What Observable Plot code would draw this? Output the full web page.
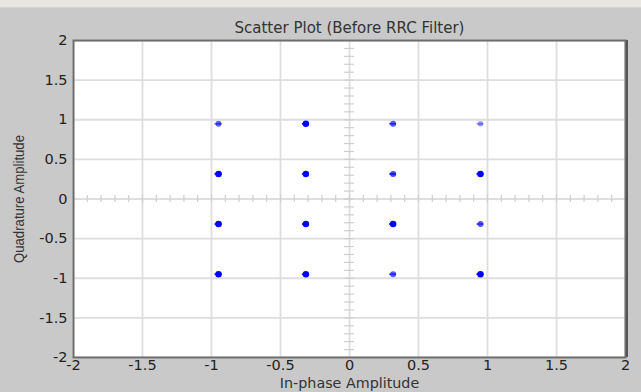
<!DOCTYPE html>
<html>
<head>
<meta charset="utf-8">
<script src="https://cdn.jsdelivr.net/npm/d3@7"></script>
<script src="https://cdn.jsdelivr.net/npm/@observablehq/plot@0.6"></script>
<style>
  html, body { margin: 0; padding: 0; background: #c9c9c9; }
  #strip { height: 7px; background: #e8e6e0; border-bottom: 1px solid #d6d4ce; }
  #chart svg { display: block; }
</style>
</head>
<body>
<div id="strip"></div>
<div id="chart"></div>
<script>
// ---- data ----
const inPhase    = [-0.949, -0.316, 0.316, 0.949,  -0.949, -0.316, 0.316, 0.949,  -0.949, -0.316, 0.316, 0.949,  -0.949, -0.316, 0.316, 0.949];
const quadrature = [ 0.949,  0.949, 0.949, 0.949,   0.316,  0.316, 0.316, 0.316,  -0.316, -0.316,-0.316,-0.316,  -0.949, -0.949,-0.949,-0.949];
const density    = [ 0.5,    1.0,   0.55,  0.2,     1.0,    1.0,   0.65,  1.0,     1.0,    1.0,   1.0,   0.55,    1.0,    1.0,   0.55,  1.0];
const axisTicks  = [-2, -1.5, -1, -0.5, 0, 0.5, 1, 1.5, 2];
const minorTicks = d3.range(-20, 21).map(k => k / 10);

const title  = "Scatter Plot (Before RRC Filter)";
const xLabel = "In-phase Amplitude";
const yLabel = "Quadrature Amplitude";

const points = inPhase.map((x, i) => ({x, y: quadrature[i], d: density[i]}));

const font = "DejaVu Sans, Verdana, sans-serif";
const fmt = d => String(d);

const plot = Plot.plot({
  width: 641,
  height: 384,
  marginLeft: 73,
  marginRight: 16,
  marginTop: 32,
  marginBottom: 35,
  style: {background: "transparent", fontFamily: font, fontSize: "14px", color: "#222"},
  x: {domain: [-2, 2], ticks: axisTicks, tickFormat: fmt, label: null},
  y: {domain: [-2, 2], ticks: axisTicks, tickFormat: fmt, label: null},
  marks: [
    Plot.frame({fill: "white", stroke: null}),
    Plot.gridX(axisTicks, {stroke: "#dedede", strokeOpacity: 1, strokeWidth: 1.8}),
    Plot.gridY(axisTicks, {stroke: "#dedede", strokeOpacity: 1, strokeWidth: 1.8}),
    // crosshair minor ticks through the origin
    Plot.ruleX(minorTicks, {x: d => d, y1: 0, y2: 0, insetTop: -3.5, insetBottom: -3.5, stroke: "#cfcfcf", strokeWidth: 1.2}),
    Plot.ruleY(minorTicks, {y: d => d, x1: 0, x2: 0, insetLeft: -5, insetRight: -5, stroke: "#cfcfcf", strokeWidth: 1.2}),
    // constellation points
    Plot.ruleY(points, {y: "y", x1: "x", x2: "x", insetLeft: -3.5, insetRight: -3.5, stroke: "#0000ff", strokeWidth: 1.6, strokeOpacity: d => 0.2 + 0.8 * d.d}),
    Plot.dot(points, {x: "x", y: "y", r: d => 1.5 + 0.8 * d.d, fill: "#0000ff", fillOpacity: d => 0.25 + 0.75 * d.d, stroke: null}),
    Plot.frame({stroke: "#6e6e6e", strokeWidth: 2}),
    Plot.ruleX([2], {stroke: "#555", strokeWidth: 2, dx: 1.5}),
    Plot.axisX({ticks: axisTicks, tickFormat: fmt, tickSize: 0, tickPadding: 2, fill: "#222", fontSize: 14.5}),
    Plot.axisY({ticks: axisTicks, tickFormat: fmt, tickSize: 0, tickPadding: 6, fill: "#222", fontSize: 14.5}),
    Plot.text([title], {text: d => d, frameAnchor: "top", textAnchor: "middle", lineAnchor: "middle", dy: -12, fill: "#333", fontSize: 15}),
    Plot.text([xLabel], {text: d => d, frameAnchor: "bottom", textAnchor: "middle", lineAnchor: "middle", dy: 26, fill: "#333", fontSize: 14.3}),
    Plot.text([yLabel], {text: d => d, frameAnchor: "left", textAnchor: "middle", lineAnchor: "middle", rotate: -90, dx: -54, fill: "#333", fontSize: 15, fontFamily: "Liberation Sans, Arial, sans-serif"})
  ]
});
// condense the vertical label like the reference's narrow lettering
d3.select(plot).selectAll("text").filter(function() { return this.textContent === yLabel; })
  .attr("textLength", 128).attr("lengthAdjust", "spacingAndGlyphs");
document.getElementById("chart").appendChild(plot);
</script>
</body>
</html>
